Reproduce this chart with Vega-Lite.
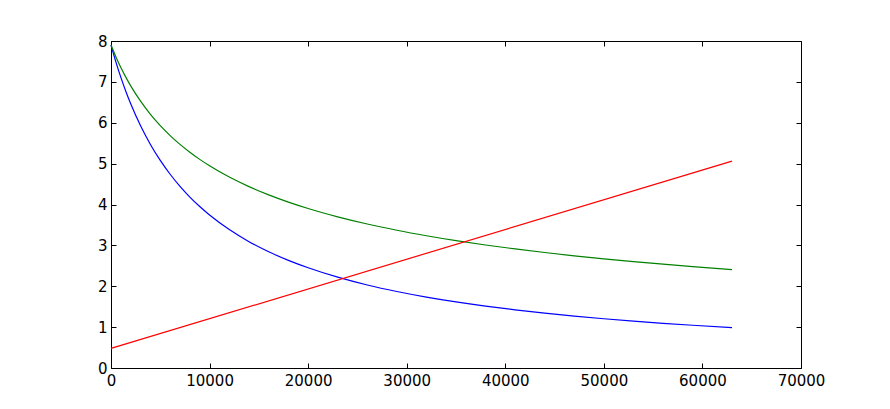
{
  "$schema": "https://vega.github.io/schema/vega-lite/v6.json",
  "width": 690,
  "height": 327,
  "autosize": {"type": "none"},
  "padding": {"left": 111, "top": 41, "right": 89, "bottom": 41},
  "background": "white",
  "config": {
    "view": {"stroke": "black", "strokeWidth": 1},
    "axis": {
      "domain": false,
      "grid": false,
      "labelFont": "DejaVu Sans",
      "labelFontSize": 15,
      "labelColor": "black",
      "tickColor": "black",
      "tickWidth": 1,
      "tickSize": -5,
      "title": null,
      "labelFlush": false,
      "labelOverlap": false
    }
  },
  "data": {
    "values": [
      {"s": "b", "x": 0, "y": 7.9},
      {"s": "b", "x": 500, "y": 7.484},
      {"s": "b", "x": 1000, "y": 7.11},
      {"s": "b", "x": 1500, "y": 6.771},
      {"s": "b", "x": 2000, "y": 6.464},
      {"s": "b", "x": 3000, "y": 5.925},
      {"s": "b", "x": 4000, "y": 5.469},
      {"s": "b", "x": 5000, "y": 5.079},
      {"s": "b", "x": 6000, "y": 4.74},
      {"s": "b", "x": 7000, "y": 4.444},
      {"s": "b", "x": 8000, "y": 4.182},
      {"s": "b", "x": 9000, "y": 3.95},
      {"s": "b", "x": 10000, "y": 3.742},
      {"s": "b", "x": 12000, "y": 3.386},
      {"s": "b", "x": 14000, "y": 3.091},
      {"s": "b", "x": 16000, "y": 2.844},
      {"s": "b", "x": 18000, "y": 2.633},
      {"s": "b", "x": 20000, "y": 2.452},
      {"s": "b", "x": 23000, "y": 2.222},
      {"s": "b", "x": 26000, "y": 2.031},
      {"s": "b", "x": 29000, "y": 1.871},
      {"s": "b", "x": 32000, "y": 1.734},
      {"s": "b", "x": 35000, "y": 1.616},
      {"s": "b", "x": 38000, "y": 1.513},
      {"s": "b", "x": 41000, "y": 1.422},
      {"s": "b", "x": 44000, "y": 1.342},
      {"s": "b", "x": 47000, "y": 1.27},
      {"s": "b", "x": 50000, "y": 1.205},
      {"s": "b", "x": 53000, "y": 1.147},
      {"s": "b", "x": 56000, "y": 1.094},
      {"s": "b", "x": 59000, "y": 1.046},
      {"s": "b", "x": 63000, "y": 0.988},
      {"s": "g", "x": 0, "y": 7.9},
      {"s": "g", "x": 500, "y": 7.611},
      {"s": "g", "x": 1000, "y": 7.351},
      {"s": "g", "x": 1500, "y": 7.116},
      {"s": "g", "x": 2000, "y": 6.902},
      {"s": "g", "x": 3000, "y": 6.527},
      {"s": "g", "x": 4000, "y": 6.206},
      {"s": "g", "x": 5000, "y": 5.929},
      {"s": "g", "x": 6000, "y": 5.686},
      {"s": "g", "x": 7000, "y": 5.471},
      {"s": "g", "x": 8000, "y": 5.278},
      {"s": "g", "x": 9000, "y": 5.104},
      {"s": "g", "x": 10000, "y": 4.947},
      {"s": "g", "x": 12000, "y": 4.671},
      {"s": "g", "x": 14000, "y": 4.437},
      {"s": "g", "x": 16000, "y": 4.235},
      {"s": "g", "x": 18000, "y": 4.058},
      {"s": "g", "x": 20000, "y": 3.901},
      {"s": "g", "x": 23000, "y": 3.697},
      {"s": "g", "x": 26000, "y": 3.522},
      {"s": "g", "x": 29000, "y": 3.37},
      {"s": "g", "x": 32000, "y": 3.236},
      {"s": "g", "x": 35000, "y": 3.116},
      {"s": "g", "x": 38000, "y": 3.009},
      {"s": "g", "x": 41000, "y": 2.913},
      {"s": "g", "x": 44000, "y": 2.825},
      {"s": "g", "x": 47000, "y": 2.744},
      {"s": "g", "x": 50000, "y": 2.67},
      {"s": "g", "x": 53000, "y": 2.602},
      {"s": "g", "x": 56000, "y": 2.539},
      {"s": "g", "x": 59000, "y": 2.48},
      {"s": "g", "x": 63000, "y": 2.408},
      {"s": "r", "x": 0, "y": 0.48},
      {"s": "r", "x": 63000, "y": 5.06}
    ]
  },
  "layer": [
    {
      "mark": {"type": "line", "strokeWidth": 1.2, "interpolate": "monotone"},
      "encoding": {
        "x": {
          "field": "x", "type": "quantitative",
          "scale": {"domain": [0, 70000], "nice": false, "zero": false},
          "axis": {"orient": "bottom", "values": [0, 10000, 20000, 30000, 40000, 50000, 60000, 70000], "format": "d", "labelPadding": 10}
        },
        "y": {
          "field": "y", "type": "quantitative",
          "scale": {"domain": [0, 8], "nice": false, "zero": false},
          "axis": {"orient": "left", "values": [0, 1, 2, 3, 4, 5, 6, 7, 8], "format": "d", "labelPadding": 9}
        },
        "color": {
          "field": "s", "type": "nominal",
          "scale": {"domain": ["b", "g", "r"], "range": ["#0000ff", "#008000", "#ff0000"]},
          "legend": null
        }
      }
    },
    {
      "mark": {"type": "line", "opacity": 0},
      "encoding": {
        "x": {
          "field": "x", "type": "quantitative",
          "axis": {"orient": "top", "values": [0, 10000, 20000, 30000, 40000, 50000, 60000, 70000], "labels": false}
        },
        "y": {
          "field": "y", "type": "quantitative",
          "axis": {"orient": "right", "values": [0, 1, 2, 3, 4, 5, 6, 7, 8], "labels": false}
        },
        "detail": {"field": "s"}
      }
    }
  ],
  "resolve": {"axis": {"x": "independent", "y": "independent"}}
}
